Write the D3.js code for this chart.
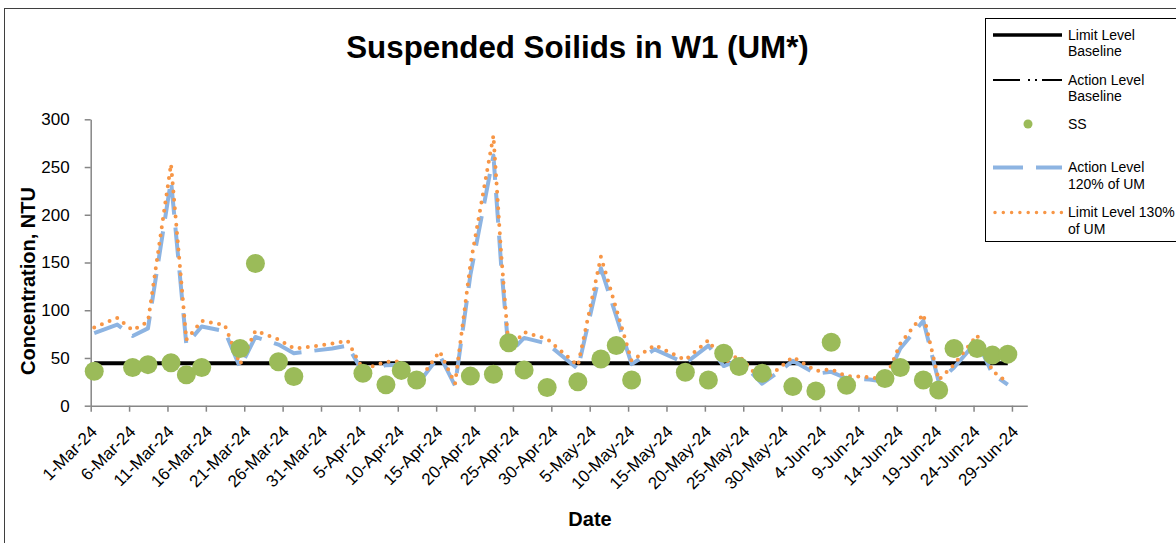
<!DOCTYPE html>
<html>
<head>
<meta charset="utf-8">
<script src="https://cdn.jsdelivr.net/npm/d3@7"></script>
<style>
  html, body { margin: 0; padding: 0; background: #fff; }
  svg { display: block; font-family: "Liberation Sans", Arial, Helvetica, sans-serif; }
</style>
</head>
<body>
<script>
// ---- data ---------------------------------------------------------------
const xTickLabels = ["1-Mar-24","6-Mar-24","11-Mar-24","16-Mar-24","21-Mar-24","26-Mar-24",
  "31-Mar-24","5-Apr-24","10-Apr-24","15-Apr-24","20-Apr-24","25-Apr-24","30-Apr-24",
  "5-May-24","10-May-24","15-May-24","20-May-24","25-May-24","30-May-24","4-Jun-24",
  "9-Jun-24","14-Jun-24","19-Jun-24","24-Jun-24","29-Jun-24"];
const yTickValues = [0, 50, 100, 150, 200, 250, 300];
const xDomain = ["2024-03-01", "2024-07-01"];
const sampleTime = "11:00";

// SS sampling results (NTU)
const ssDates = ["2024-03-01","2024-03-06","2024-03-08","2024-03-11","2024-03-13","2024-03-15",
  "2024-03-20","2024-03-22","2024-03-25","2024-03-27","2024-04-05","2024-04-08","2024-04-10",
  "2024-04-12","2024-04-19","2024-04-22","2024-04-24","2024-04-26","2024-04-29","2024-05-03",
  "2024-05-06","2024-05-08","2024-05-10","2024-05-17","2024-05-20","2024-05-22","2024-05-24",
  "2024-05-27","2024-05-31","2024-06-03","2024-06-05","2024-06-07","2024-06-12","2024-06-14",
  "2024-06-17","2024-06-19","2024-06-21","2024-06-24","2024-06-26","2024-06-28"];
const ssValues = [36, 40, 43, 45, 32.5, 40,
  60, 149, 46, 30.5, 34, 22, 37,
  27, 31, 33, 66, 37.5, 19, 25,
  49, 63, 27, 35, 27, 55, 41,
  34, 20, 15.5, 66.5, 21.5, 28.5, 40,
  27, 16.5, 60, 60, 53, 54];

// Upstream monitoring (UM) based action / limit levels
const umDates = ["2024-03-01","2024-03-04","2024-03-06","2024-03-08","2024-03-11","2024-03-13",
  "2024-03-15","2024-03-18","2024-03-20","2024-03-22","2024-03-25","2024-03-27","2024-03-29",
  "2024-04-01","2024-04-03","2024-04-05","2024-04-08","2024-04-10","2024-04-12","2024-04-15",
  "2024-04-17","2024-04-19","2024-04-22","2024-04-23","2024-04-24","2024-04-26","2024-04-29",
  "2024-05-03","2024-05-06","2024-05-10","2024-05-13","2024-05-17","2024-05-20","2024-05-22",
  "2024-05-24","2024-05-27","2024-05-29","2024-05-31","2024-06-03","2024-06-05","2024-06-07",
  "2024-06-10","2024-06-12","2024-06-14","2024-06-17","2024-06-19","2024-06-21","2024-06-24",
  "2024-06-26","2024-06-28"];
const actionLevel120 = [76, 85, 73, 81, 236, 64,
  83, 78, 40, 72, 64, 55, 57,
  60, 63, 35, 42.5, 43, 21, 53,
  21, 137, 262, 148, 54.5, 71, 65,
  38.5, 144, 43.5, 59, 44.5, 63, 41.5,
  48, 23, 34.5, 47, 33.5, 35.5, 28.5,
  27.5, 25, 60, 89, 25, 40, 68,
  33.5, 22];
const limitLevel130 = [82, 92, 79, 88, 253, 69,
  89, 84.5, 43.5, 78.5, 69.5, 60, 61.5,
  65, 68, 38, 46, 46.5, 23, 57,
  23, 148, 283, 160, 59, 77, 70,
  42, 156, 47, 63.5, 48, 68.5, 45,
  52.5, 25, 38, 51, 36.5, 38, 31,
  30, 27, 65, 96, 27, 43, 74,
  36.5, 24];

// Baselines
const baselineDates = ["2024-03-01", "2024-06-28"];
const limitBaseline = [44.4, 44.4];
const actionBaseline = [44.4, 44.4];

// ---- colours & styles ------------------------------------------------------
const COLORS = { ss: "#9BBB59", action: "#8DB4E2", limit: "#F79646", base: "#000000", axis: "#868686" };

// ---- setup ---------------------------------------------------------------
const W = 1176, H = 543;
const svg = d3.select("body").append("svg").attr("width", W).attr("height", H);

const parseDay = d3.timeParse("%Y-%m-%d");
const parseStamp = d3.timeParse("%Y-%m-%d %H:%M");
const parseTick = d3.timeParse("%d-%b-%y");
const stamp = d => parseStamp(d + " " + sampleTime);

const x = d3.scaleTime().domain(xDomain.map(parseDay)).range([90.7, 1027.3]);
const y = d3.scaleLinear().domain([0, 300]).range([405.7, 119.3]);

// chart frame
svg.append("rect").attr("x", 4.5).attr("y", 8.5).attr("width", W + 20).attr("height", H + 20)
  .attr("fill", "#fff").attr("stroke", "#3f3f3f").attr("stroke-width", 1);

// ---- axes ----------------------------------------------------------------
const xAxis = d3.axisBottom(x)
  .tickValues(xTickLabels.map(parseTick))
  .tickFormat(d3.timeFormat("%-d-%b-%y"))
  .tickSize(6).tickSizeOuter(0);
const gx = svg.append("g").attr("transform", `translate(0,${y(0)})`).call(xAxis);
gx.selectAll("text")
  .attr("x", 0).attr("y", 0).attr("dy", 0)
  .attr("transform", "translate(7,27) rotate(-45)")
  .style("text-anchor", "end")
  .style("font-size", "17px").attr("fill", "#000");

const yAxis = d3.axisLeft(y).tickValues(yTickValues).tickSize(6).tickSizeOuter(0).tickPadding(15);
const gy = svg.append("g").attr("transform", `translate(${x.range()[0]},0)`).call(yAxis);
gy.selectAll("text").style("font-size", "17px").attr("fill", "#000");

[gx, gy].forEach(g => {
  g.select(".domain").attr("stroke", COLORS.axis).attr("stroke-width", 1.5);
  g.selectAll(".tick line").attr("stroke", COLORS.axis).attr("stroke-width", 1.5);
});

// ---- series --------------------------------------------------------------
const line = d3.line().x(d => x(d[0])).y(d => y(d[1]));
const pairs = (dates, vals) => dates.map((d, i) => [stamp(d), vals[i]]);

const plot = svg.append("g");

plot.append("path").datum(pairs(baselineDates, actionBaseline))
  .attr("d", line).attr("fill", "none").attr("stroke", COLORS.base)
  .attr("stroke-width", 2).attr("stroke-dasharray", "27,8,2,5,2,5");

plot.append("path").datum(pairs(baselineDates, limitBaseline))
  .attr("d", line).attr("fill", "none").attr("stroke", COLORS.base).attr("stroke-width", 4);

plot.append("path").datum(pairs(umDates, actionLevel120))
  .attr("d", line).attr("fill", "none").attr("stroke", COLORS.action)
  .attr("stroke-width", 4).attr("stroke-dasharray", "30,13").attr("stroke-linejoin", "round");

plot.append("path").datum(pairs(umDates, limitLevel130))
  .attr("d", line).attr("fill", "none").attr("stroke", COLORS.limit)
  .attr("stroke-width", 4).attr("stroke-linecap", "round").attr("stroke-dasharray", "0,8.3");

plot.selectAll("circle.ss").data(pairs(ssDates, ssValues)).join("circle")
  .attr("class", "ss")
  .attr("cx", d => x(d[0])).attr("cy", d => y(d[1])).attr("r", 9.5)
  .attr("fill", COLORS.ss);

// ---- titles ----------------------------------------------------------------
svg.append("text").attr("x", 577.5).attr("y", 58).attr("text-anchor", "middle")
  .style("font-size", "31.3px").style("font-weight", "bold").text("Suspended Soilids in W1 (UM*)");

svg.append("text").attr("transform", "translate(35,281) rotate(-90)").attr("text-anchor", "middle")
  .style("font-size", "20px").style("font-weight", "bold").text("Concentration, NTU");

svg.append("text").attr("x", 590).attr("y", 526).attr("text-anchor", "middle")
  .style("font-size", "20px").style("font-weight", "bold").text("Date");

// ---- legend ----------------------------------------------------------------
const legend = svg.append("g");
legend.append("rect").attr("x", 985.5).attr("y", 18.5).attr("width", 220).attr("height", 223)
  .attr("fill", "#fff").attr("stroke", "#000").attr("stroke-width", 1);

const legendItems = [
  { y: 35, lines: ["Limit Level", "Baseline"], kind: "solid" },
  { y: 80, lines: ["Action Level", "Baseline"], kind: "dashdot" },
  { y: 124, lines: ["SS"], kind: "dot" },
  { y: 167.5, lines: ["Action Level", "120% of UM"], kind: "dash" },
  { y: 212.5, lines: ["Limit Level 130%", "of UM"], kind: "round" }
];
legendItems.forEach(it => {
  const g = legend.append("g");
  if (it.kind === "dot") {
    g.append("circle").attr("cx", 1028).attr("cy", it.y).attr("r", 4.5).attr("fill", COLORS.ss);
  } else {
    const p = g.append("line").attr("x1", 993).attr("x2", 1062).attr("y1", it.y).attr("y2", it.y);
    if (it.kind === "solid") p.attr("stroke", COLORS.base).attr("stroke-width", 3.5);
    if (it.kind === "dashdot") p.attr("stroke", COLORS.base).attr("stroke-width", 2).attr("stroke-dasharray", "27,8,2,5,2,5");
    if (it.kind === "dash") p.attr("stroke", COLORS.action).attr("stroke-width", 4).attr("stroke-dasharray", "30,13");
    if (it.kind === "round") p.attr("x1", 995).attr("stroke", COLORS.limit).attr("stroke-width", 3.5)
      .attr("stroke-linecap", "round").attr("stroke-dasharray", "0,8.3");
  }
  it.lines.forEach((t, i) => {
    g.append("text").attr("x", 1068).attr("y", it.y + i * 16.5).attr("dy", "0.35em")
      .style("font-size", "14px").attr("fill", "#000").text(t);
  });
});
</script>
</body>
</html>
